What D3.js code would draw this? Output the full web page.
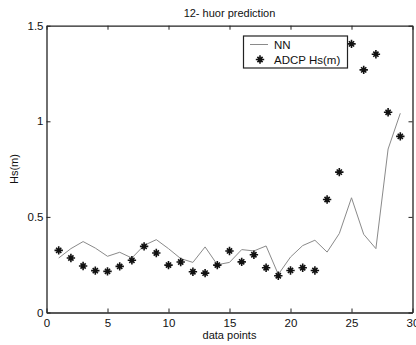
<!DOCTYPE html>
<html><head><meta charset="utf-8">
<script src="https://cdn.jsdelivr.net/npm/d3@7"></script>
<style>body{margin:0;background:#fff}svg{display:block}text{font-family:"Liberation Sans",Arial,sans-serif;fill:#111}</style>
</head><body><svg id="c" width="416" height="345"></svg>
<script>
const xPoints = d3.range(1, 30);
const nnValues = [0.285,0.334,0.371,0.337,0.294,0.315,0.285,0.351,0.381,0.334,0.282,0.262,0.343,0.250,0.262,0.329,0.322,0.348,0.199,0.290,0.350,0.378,0.316,0.413,0.600,0.409,0.334,0.855,1.042];
const adcpValues = [0.325,0.285,0.243,0.219,0.215,0.241,0.273,0.346,0.311,0.248,0.264,0.213,0.206,0.248,0.322,0.265,0.302,0.234,0.192,0.220,0.234,0.220,0.591,0.734,1.405,1.269,1.351,1.047,0.921];
const xTicks = [0,5,10,15,20,25,30];
const yTicks = [0,0.5,1,1.5];
const seriesNames = ["NN","ADCP Hs(m)"];

const svg = d3.select("#c");
const m = {l:46.5, r:412.5, t:25.7, b:312.5};
const x = d3.scaleLinear().domain([0,30]).range([m.l, m.r]);
const y = d3.scaleLinear().domain([0,1.5]).range([m.b, m.t]);

const fmt = d => String(d);
// bottom axis
const gb = svg.append("g").attr("transform",`translate(0,${m.b})`)
  .call(d3.axisBottom(x).tickValues(xTicks).tickFormat(fmt).tickSizeInner(-4).tickSizeOuter(0).tickPadding(6));
const gl = svg.append("g").attr("transform",`translate(${m.l},0)`)
  .call(d3.axisLeft(y).tickValues(yTicks).tickFormat(fmt).tickSizeInner(-4).tickSizeOuter(0).tickPadding(3));
const gt = svg.append("g").attr("transform",`translate(0,${m.t})`)
  .call(d3.axisTop(x).tickValues(xTicks).tickFormat("").tickSizeInner(-4).tickSizeOuter(0));
const gr = svg.append("g").attr("transform",`translate(${m.r},0)`)
  .call(d3.axisRight(y).tickValues(yTicks).tickFormat("").tickSizeInner(-4).tickSizeOuter(0));
[gb,gl,gt,gr].forEach(g=>{
  g.selectAll(".domain").attr("stroke","#222").attr("stroke-width",1.3);
  g.selectAll(".tick line").attr("stroke","#222").attr("stroke-width",1);
  g.selectAll("text").style("font-size","11.5px").attr("fill","#111");
});
gb.selectAll("text").attr("dy","0.71em");

// NN line
svg.append("path")
  .datum(xPoints.map((d,i)=>[d,nnValues[i]]))
  .attr("fill","none").attr("stroke","#8a8a8a").attr("stroke-width",1)
  .attr("d", d3.line().x(d=>x(d[0])).y(d=>y(d[1])));

// star markers
function star(g, cx, cy){
  const s = 4.2, t = 2.6;
  g.append("path")
   .attr("d",`M${cx-s},${cy}L${cx+s},${cy}M${cx},${cy-s}L${cx},${cy+s}M${cx-t},${cy-t}L${cx+t},${cy+t}M${cx-t},${cy+t}L${cx+t},${cy-t}`)
   .attr("stroke","#111").attr("stroke-width",1.6).attr("fill","none");
}
const gs = svg.append("g");
xPoints.forEach((d,i)=>star(gs, x(d), y(adcpValues[i])));

// legend
const lg = svg.append("g");
lg.append("rect").attr("x",243.5).attr("y",36).attr("width",104).attr("height",32)
  .attr("fill","#fff").attr("stroke","#222").attr("stroke-width",1.2);
lg.append("line").attr("x1",250).attr("x2",268).attr("y1",44.5).attr("y2",44.5)
  .attr("stroke","#8a8a8a").attr("stroke-width",1);
lg.append("text").attr("x",274).attr("y",48.5).style("font-size","11.5px").text(seriesNames[0]);
star(lg, 260, 59.5);
lg.append("text").attr("x",274).attr("y",63.5).style("font-size","11.5px").text(seriesNames[1]);

// title & labels
svg.append("text").attr("x",(m.l+m.r)/2).attr("y",17).attr("text-anchor","middle")
  .style("font-size","11px").text("12- huor prediction");
svg.append("text").attr("x",(m.l+m.r)/2).attr("y",339).attr("text-anchor","middle")
  .style("font-size","11px").text("data points");
svg.append("text").attr("transform",`translate(18,${(m.t+m.b)/2}) rotate(-90)`).attr("text-anchor","middle")
  .style("font-size","11px").text("Hs(m)");
</script></body></html>
